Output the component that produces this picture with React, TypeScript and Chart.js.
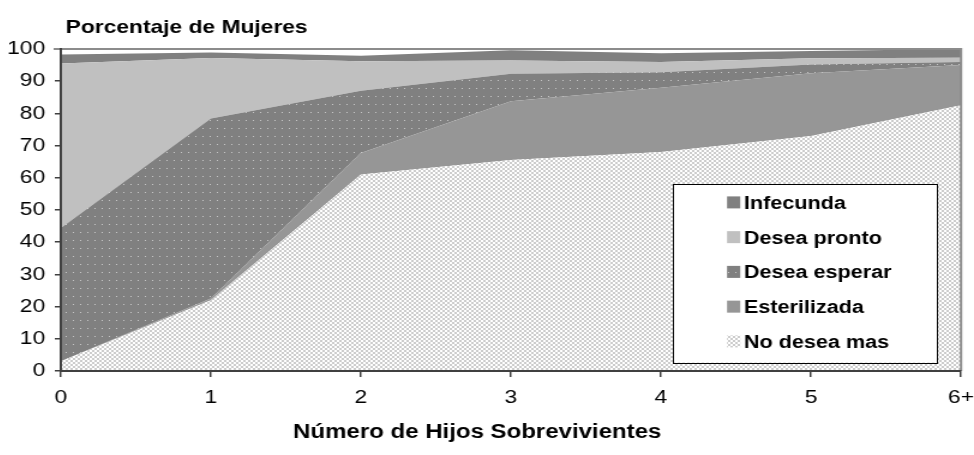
import React, { useEffect, useRef } from 'react';
import { Chart, registerables } from 'chart.js';

Chart.register(...registerables);

// ---- data ----
const categories = ['0', '1', '2', '3', '4', '5', '6+'];
const noDeseaMas = [3.0, 22.0, 61.0, 65.5, 68.0, 73.0, 82.5];
const esterilizada = [0.0, 0.5, 6.7, 18.3, 20.0, 19.5, 12.5];
const deseaEsperar = [41.4, 55.9, 19.3, 8.5, 4.8, 2.7, 1.0];
const deseaPronto = [51.1, 18.8, 9.2, 4.1, 3.2, 1.9, 1.3];
const infecunda = [2.8, 1.7, 1.7, 3.2, 2.7, 2.3, 2.7];
const seriesNames = ['No desea mas', 'Esterilizada', 'Desea esperar', 'Desea pronto', 'Infecunda'];
const yMin = 0;
const yMax = 100;
const yStep = 10;
const chartTitle = 'Porcentaje de Mujeres';
const xAxisTitle = 'Número de Hijos Sobrevivientes';

// ---- layout (canvas is drawn narrower and stretched horizontally) ----
const SX = 1.2;
const CSS_W = 966;
const CSS_H = 439;
const W = Math.round(CSS_W / SX);
const FONT = "'Liberation Sans', Arial, Helvetica, sans-serif";

function makePattern(w: number, h: number, bg: string, fg: string, rects: number[][]) {
  const c = document.createElement('canvas');
  c.width = w;
  c.height = h;
  const x = c.getContext('2d')!;
  x.fillStyle = bg;
  x.fillRect(0, 0, w, h);
  x.fillStyle = fg;
  rects.forEach(([rx, ry, rw, rh]) => x.fillRect(rx, ry, rw, rh));
  const ctx = document.createElement('canvas').getContext('2d')!;
  return ctx.createPattern(c, 'repeat')!;
}

const decorPlugin = {
  id: 'decor',
  afterDatasetsDraw(chart: any) {
    const { ctx, chartArea: a } = chart;
    ctx.save();
    ctx.strokeStyle = '#8c8c8c';
    ctx.lineWidth = 2;
    ctx.beginPath();
    ctx.moveTo(a.left - 6, a.top);
    ctx.lineTo(a.right, a.top);
    ctx.lineTo(a.right, a.bottom);
    ctx.stroke();
    ctx.restore();
  },
  afterDraw(chart: any) {
    const { ctx, chartArea: a } = chart;
    ctx.save();
    // chart title
    ctx.fillStyle = '#000';
    ctx.font = `bold 19px ${FONT}`;
    ctx.textAlign = 'left';
    ctx.textBaseline = 'alphabetic';
    ctx.fillText(chartTitle, a.left + 4, 25);
    // x axis title
    ctx.font = `bold 20px ${FONT}`;
    ctx.textAlign = 'center';
    ctx.fillText(xAxisTitle, 391, 430);
    // legend
    const boxR = a.right - 20;
    const boxB = a.bottom - 8.5;
    const boxL = boxR - 220;
    const boxT = boxB - 178.5;
    ctx.fillStyle = '#fff';
    ctx.fillRect(boxL, boxT, boxR - boxL, boxB - boxT);
    ctx.strokeStyle = '#000';
    ctx.lineWidth = 1;
    ctx.strokeRect(Math.round(boxL) + 0.5, Math.round(boxT) + 0.5, Math.round(boxR - boxL), Math.round(boxB - boxT));
    const items = chart.data.datasets.slice().reverse();
    ctx.font = `bold 18px ${FONT}`;
    ctx.textAlign = 'left';
    items.forEach((ds: any, i: number) => {
      const cy = boxT + 18.4 + i * 34.75;
      ctx.fillStyle = ds.backgroundColor;
      ctx.fillRect(boxL + 45, cy - 6, 11, 12);
      ctx.fillStyle = '#000';
      ctx.fillText(ds.label, boxL + 59, cy + 6.5);
    });
    ctx.restore();
  },
};

export default function App() {
  const ref = useRef<HTMLCanvasElement>(null);
  useEffect(() => {
    if (!ref.current) return;
    const ndmPattern = makePattern(4, 4, '#ffffff', '#cccccc', [[0, 0, 2, 2], [2, 2, 2, 2]]);
    const dePattern = makePattern(6, 8, '#808080', '#c8c8c8', [[0, 0, 1, 1]]);
    const colors: any[] = [ndmPattern, '#969696', dePattern, '#c0c0c0', '#808080'];
    const values = [noDeseaMas, esterilizada, deseaEsperar, deseaPronto, infecunda];
    const datasets = values.map((v, i) => ({
      label: seriesNames[i],
      data: v,
      backgroundColor: colors[i],
      borderWidth: 0,
      borderColor: 'rgba(0,0,0,0)',
      pointRadius: 0,
      tension: 0,
      fill: i === 0 ? 'origin' : '-1',
    }));
    const tickFont = { family: FONT, size: 19 };
    const chart = new Chart(ref.current, {
      type: 'line',
      data: { labels: categories, datasets },
      options: {
        animation: false,
        responsive: false,
        devicePixelRatio: 1,
        layout: { padding: { top: 41, right: 0, left: 0, bottom: 0 } },
        plugins: { legend: { display: false }, title: { display: false }, tooltip: { enabled: false } },
        scales: {
          x: {
            type: 'category',
            offset: false,
            grid: { display: true, drawOnChartArea: false, drawTicks: true, tickLength: 6, color: '#404040', lineWidth: 1.5 },
            border: { display: true, color: '#404040', width: 2, z: 1 },
            ticks: { font: tickFont, color: '#000', padding: 9, maxRotation: 0, autoSkip: false },
            afterFit: (s: any) => {
              s.height = CSS_H - 363;
              s.paddingRight = 10.8;
              s.paddingLeft = 0;
            },
          },
          y: {
            stacked: true,
            min: yMin,
            max: yMax,
            grid: { display: true, drawOnChartArea: false, drawTicks: true, tickLength: 5, color: '#404040', lineWidth: 1.5 },
            border: { display: true, color: '#404040', width: 2, z: 1 },
            ticks: { font: tickFont, color: '#000', padding: 8, stepSize: yStep },
            afterFit: (s: any) => { s.width = 44; },
          },
        },
      },
      plugins: [decorPlugin],
    } as any);
    return () => chart.destroy();
  }, []);
  return (
    <canvas
      ref={ref}
      width={W}
      height={CSS_H}
      style={{
        position: 'fixed',
        left: '8px',
        top: '8px',
        width: `${CSS_W}px`,
        height: `${CSS_H}px`,
        display: 'block',
      }}
    />
  );
}
